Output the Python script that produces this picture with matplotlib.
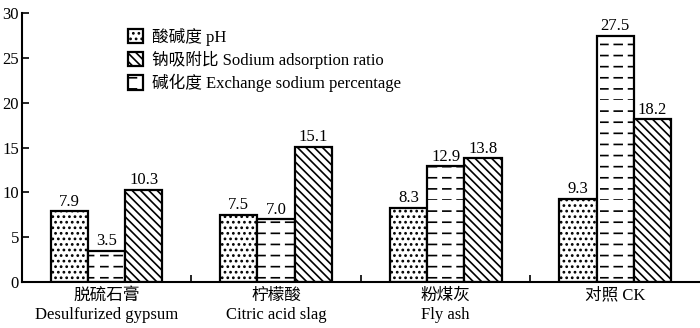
import matplotlib
matplotlib.use('Agg')
import matplotlib.pyplot as plt
import numpy as np
from matplotlib import hatch as mhatch
from matplotlib.path import Path

# 数据
categories = ['脱硫石膏\nDesulfurized gypsum', '柠檬酸\nCitric acid slag', '粉煤灰\nFly ash', '对照 CK']
ph = [7.9, 7.5, 8.3, 9.3]
esp = [3.5, 7.0, 12.9, 27.5]   # 碱化度
sar = [10.3, 15.1, 13.8, 18.2]  # 钠吸附比

labels = ['酸碱度 pH', '钠吸附比 Sodium adsorption ratio', '碱化度 Exchange sodium percentage']


# short dashes instead of full horizontal lines for '-'
class DashHatch(mhatch.HatchPatternBase):
    def __init__(self, hatch, density):
        n = hatch.count('-')
        self.num_rows = 9 * n
        self.num_cols = 7 * n
        self.num_vertices = self.num_rows * self.num_cols * 2

    def set_vertices_and_codes(self, vertices, codes):
        ys = np.linspace(0, 1, self.num_rows, endpoint=False)
        xs = np.linspace(0, 1, self.num_cols, endpoint=False)
        dash = 0.55 / self.num_cols
        i = 0
        for y in ys:
            for x in xs:
                vertices[i] = (x, y)
                vertices[i + 1] = (x + dash, y)
                codes[i] = Path.MOVETO
                codes[i + 1] = Path.LINETO
                i += 2


mhatch._hatch_types = [DashHatch if t is mhatch.HorizontalHatch else t
                       for t in mhatch._hatch_types]

plt.rcParams['font.family'] = ['Liberation Serif', 'Noto Sans CJK SC']
plt.rcParams['hatch.linewidth'] = 1.2
plt.rcParams['hatch.color'] = 'black'

fig = plt.figure(figsize=(7, 3.28), dpi=100)
ax = fig.add_axes([0.031, 0.14, 0.969, 0.82])

x = np.arange(len(categories))
w = 0.22
b1 = ax.bar(x - w, ph, w, facecolor='white', edgecolor='black', linewidth=1.6, hatch='...', label=labels[0])
b2 = ax.bar(x, esp, w, facecolor='white', edgecolor='black', linewidth=1.6, hatch='-', label=labels[2])
b3 = ax.bar(x + w, sar, w, facecolor='white', edgecolor='black', linewidth=1.6, hatch='\\\\\\\\', label=labels[1])

for b in (b1, b2, b3):
    ax.bar_label(b, fmt='%.1f', padding=1, fontsize=12)

ax.set_xlim(-0.5, 3.5)
ax.set_ylim(0, 30)
ax.set_yticks([0, 5, 10, 15, 20, 25, 30])
ax.set_xticks(x)
ax.set_xticklabels(categories, fontsize=12, linespacing=1.3)
ax.set_xticks([0.5, 1.5, 2.5], minor=True)
ax.tick_params(axis='x', which='major', length=0, pad=4)
ax.tick_params(axis='x', which='minor', direction='in', length=5, width=1.2)
ax.tick_params(axis='y', direction='in', length=5, width=1.2, labelsize=12, pad=2)

for s in ['top', 'right']:
    ax.spines[s].set_visible(False)
ax.spines['left'].set_linewidth(1.5)
ax.spines['bottom'].set_linewidth(1.5)

ax.legend([b1, b3, b2], labels, loc='upper left', bbox_to_anchor=(0.156, 0.945),
          frameon=False, fontsize=12, handlelength=0.95, handleheight=0.95,
          handletextpad=0.5, labelspacing=0.3, borderpad=0, borderaxespad=0)

plt.savefig('out.png', dpi=100)
